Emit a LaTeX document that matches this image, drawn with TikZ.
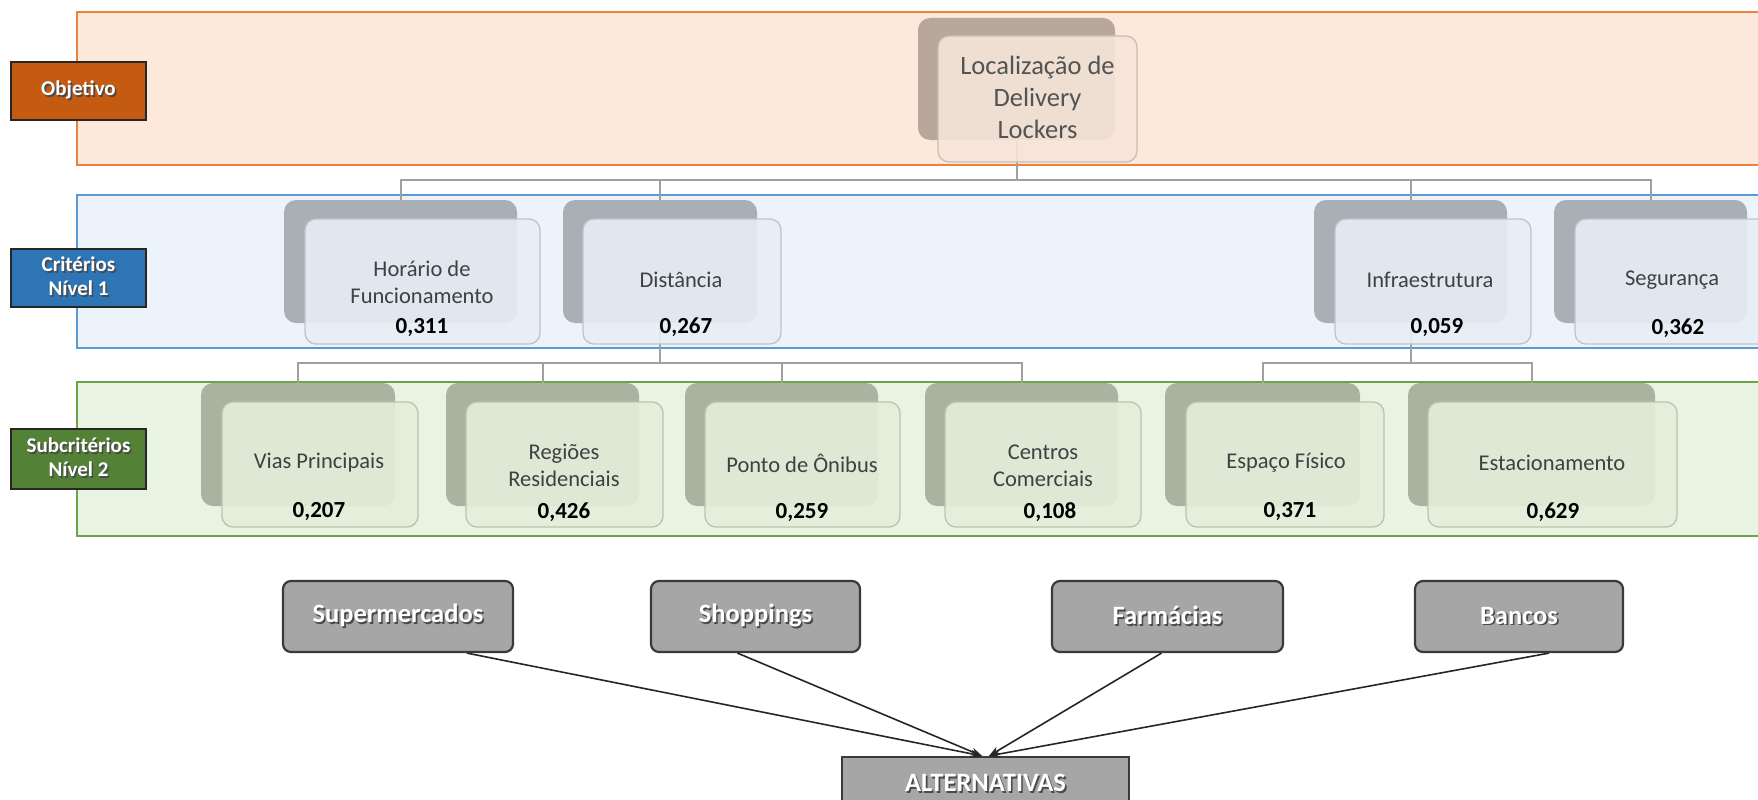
\documentclass[tikz,border=0pt]{standalone}
\usepackage{fontspec}
\setmainfont{Carlito}
\usetikzlibrary{arrows.meta,calc}
\definecolor{ob1}{HTML}{E8833F}
\definecolor{ob1f}{HTML}{FCE9DB}
\definecolor{cr1}{HTML}{5B9BD5}
\definecolor{cr1f}{HTML}{EDF3FA}
\definecolor{sb1}{HTML}{6FA349}
\definecolor{sb1f}{HTML}{E9F3E2}
\definecolor{lblO}{HTML}{C55A11}
\definecolor{lblC}{HTML}{2E75B6}
\definecolor{lblS}{HTML}{538135}
\definecolor{topbk}{HTML}{B8A89B}
\definecolor{topfr}{HTML}{F6E5D8}
\definecolor{topbd}{HTML}{CDBDB0}
\definecolor{bk1}{HTML}{AAAFB6}
\definecolor{fr1}{HTML}{E8EEF6}
\definecolor{bd1}{HTML}{BEC4CC}
\definecolor{bk2}{HTML}{A8B49F}
\definecolor{fr2}{HTML}{E3EEDB}
\definecolor{bd2}{HTML}{B8C4B0}
\definecolor{altf}{HTML}{A6A6A6}
\definecolor{altd}{HTML}{3A3A3A}
\definecolor{conn}{HTML}{A0A0A0}
\definecolor{txtc}{HTML}{404040}
\definecolor{shc}{HTML}{4A4A4A}
\newcommand\wsh[1]{\leavevmode\rlap{\kern1.6pt\raisebox{-1.6pt}{\color{shc}#1}}{\color{white}#1}}
\begin{document}
\begin{tikzpicture}[x=1pt,y=-1pt,
  band/.style={line width=1.6pt},
  lbl/.style={draw=black!85,line width=2pt,minimum width=135pt,minimum height=58pt,inner sep=0pt,align=center,font=\fontsize{21}{24}\selectfont\bfseries},
  bkbox/.style={rounded corners=12pt,minimum height=123pt,inner sep=0pt},
  frbox/.style={rounded corners=11pt,minimum height=125pt,inner sep=0pt,line width=1.3pt,fill opacity=0.9},
  nm/.style={text=txtc,align=center,font=\fontsize{22.5}{27}\selectfont},
  val/.style={text=black,font=\fontsize{23}{27}\selectfont\bfseries},
  altbox/.style={rounded corners=8pt,fill=altf,draw=altd,line width=2.2pt,minimum height=71pt,inner sep=0pt,font=\fontsize{26.5}{30}\selectfont\bfseries},
  cn/.style={draw=conn,line width=2pt},
  ar/.style={draw=black!85,line width=1.6pt,-{Stealth[length=11pt,width=8pt]}}
]
\path[use as bounding box] (0,0) rectangle (1758,800);
\clip (0,0) rectangle (1758,800);

% bands
\path[band,draw=ob1,fill=ob1f] (77,12) rectangle (1775,165);
\path[band,draw=cr1,fill=cr1f] (77,195) rectangle (1775,348);
\path[band,draw=sb1,fill=sb1f] (77,382) rectangle (1775,536);

% back boxes (level 0 and 1)
\node[bkbox,fill=topbk,minimum width=197pt,minimum height=122pt] (topb) at (1016.5,79) {};
\node[bkbox,fill=bk1,minimum width=233pt] (hb) at (400.5,261.5) {};
\node[bkbox,fill=bk1,minimum width=194pt] (db) at (660,261.5) {};
\node[bkbox,fill=bk1,minimum width=193pt] (ib) at (1410.5,261.5) {};
\node[bkbox,fill=bk1,minimum width=193pt] (sgb) at (1650.5,261.5) {};
% back boxes level 2
\node[bkbox,fill=bk2,minimum width=194pt] (vb) at (298,444.5) {};
\node[bkbox,fill=bk2,minimum width=193pt] (rb) at (542.5,444.5) {};
\node[bkbox,fill=bk2,minimum width=193pt] (pb) at (781.5,444.5) {};
\node[bkbox,fill=bk2,minimum width=193pt] (cb) at (1021.5,444.5) {};
\node[bkbox,fill=bk2,minimum width=195pt] (eb) at (1262.5,444.5) {};
\node[bkbox,fill=bk2,minimum width=247pt] (stb) at (1531.5,444.5) {};

% connectors (behind the front boxes)
\draw[cn] (topb.south) -- ++(0,40) -| (hb.north);
\draw[cn] (topb.south) -- ++(0,40) -| (db.north);
\draw[cn] (topb.south) -- ++(0,40) -| (ib.north);
\draw[cn] (topb.south) -- ++(0,40) -| (sgb.north);
\draw[cn] (db.south) -- ++(0,40) -| (vb.north);
\draw[cn] (db.south) -- ++(0,40) -| (rb.north);
\draw[cn] (db.south) -- ++(0,40) -| (pb.north);
\draw[cn] (db.south) -- ++(0,40) -| (cb.north);
\draw[cn] (ib.south) -- ++(0,40) -| (eb.north);
\draw[cn] (ib.south) -- ++(0,40) -| (stb.north);

% front boxes
\node[frbox,fill=topfr,draw=topbd,minimum width=199pt,minimum height=126pt] (topf) at (1037.5,99) {};
\node[frbox,fill=fr1,draw=bd1,minimum width=235pt] (hf) at (422.5,281.5) {};
\node[frbox,fill=fr1,draw=bd1,minimum width=198pt] (df) at (682,281.5) {};
\node[frbox,fill=fr1,draw=bd1,minimum width=196pt] (if) at (1433,281.5) {};
\node[frbox,fill=fr1,draw=bd1,minimum width=196pt] (sgf) at (1673,281.5) {};
\node[frbox,fill=fr2,draw=bd2,minimum width=196pt] (vf) at (320,464.5) {};
\node[frbox,fill=fr2,draw=bd2,minimum width=197pt] (rf) at (564.5,464.5) {};
\node[frbox,fill=fr2,draw=bd2,minimum width=195pt] (pf) at (802.5,464.5) {};
\node[frbox,fill=fr2,draw=bd2,minimum width=196pt] (cf) at (1043,464.5) {};
\node[frbox,fill=fr2,draw=bd2,minimum width=198pt] (ef) at (1285,464.5) {};
\node[frbox,fill=fr2,draw=bd2,minimum width=249pt] (stf) at (1552.5,464.5) {};

% texts
\node[text=txtc!90!white,align=center,font=\fontsize{26.5}{32}\selectfont] (topt) at (1037.5,97) {Localização de\\Delivery\\Lockers};
\node[nm] (ht) at (422,282) {Horário de\\Funcionamento};
\node[val] (hv) at (422,328) {0,311};
\node[nm] (dt) at (681,280) {Distância};
\node[val] (dv) at (686,327) {0,267};
\node[nm] (it) at (1430,280) {Infraestrutura};
\node[val] (iv) at (1437,328) {0,059};
\node[nm] (sgt) at (1672,280) {Segurança};
\node[val] (sgv) at (1678,328) {0,362};

\node[nm] (vt) at (319,463) {Vias Principais};
\node[val] (vv) at (319,512) {0,207};
\node[nm] (rt) at (564,465) {Regiões\\Residenciais};
\node[val] (rv) at (564,512) {0,426};
\node[nm] (pt) at (802,463) {Ponto de Ônibus};
\node[val] (pv) at (802,513) {0,259};
\node[nm] (ct) at (1043,466) {Centros\\Comerciais};
\node[val] (cv) at (1050,512) {0,108};
\node[nm] (et) at (1286,463) {Espaço Físico};
\node[val] (ev) at (1290,512) {0,371};
\node[nm] (stt) at (1552,463) {Estacionamento};
\node[val] (stv) at (1553,512) {0,629};

% left labels
\node[lbl,fill=lblO] (lo) at (78.5,91) {\wsh{Objetivo}};
\node[lbl,fill=lblC] (lc) at (78.5,277.5) {\wsh{Critérios}\\\wsh{Nível 1}};
\node[lbl,fill=lblS,minimum height=60pt] (ls) at (78.5,458.5) {\wsh{Subcritérios}\\\wsh{Nível 2}};

% alternatives
\node[altbox,minimum width=230pt] (sup) at (398,616.5) {\wsh{Supermercados}};
\node[altbox,minimum width=209pt] (sho) at (755.5,616.5) {\wsh{Shoppings}};
\node[altbox,minimum width=231pt] (far) at (1167.5,616.5) {\wsh{Farmácias}};
\node[altbox,minimum width=208pt] (ban) at (1519,616.5) {\wsh{Bancos}};
\node[fill=altf,draw=altd,line width=2.2pt,minimum width=287pt,minimum height=54pt,inner sep=0pt,font=\fontsize{26.5}{30}\selectfont\bfseries] (alt) at (985.5,784) {\wsh{ALTERNATIVAS}};

\draw[ar] ([xshift=69pt]sup.south) -- ([xshift=-3.5pt]alt.north);
\draw[ar] ([xshift=-18pt]sho.south) -- ([xshift=-3.5pt]alt.north);
\draw[ar] ([xshift=-6pt]far.south) -- ([xshift=3.5pt]alt.north);
\draw[ar] ([xshift=30pt]ban.south) -- ([xshift=3.5pt]alt.north);
\end{tikzpicture}
\end{document}
